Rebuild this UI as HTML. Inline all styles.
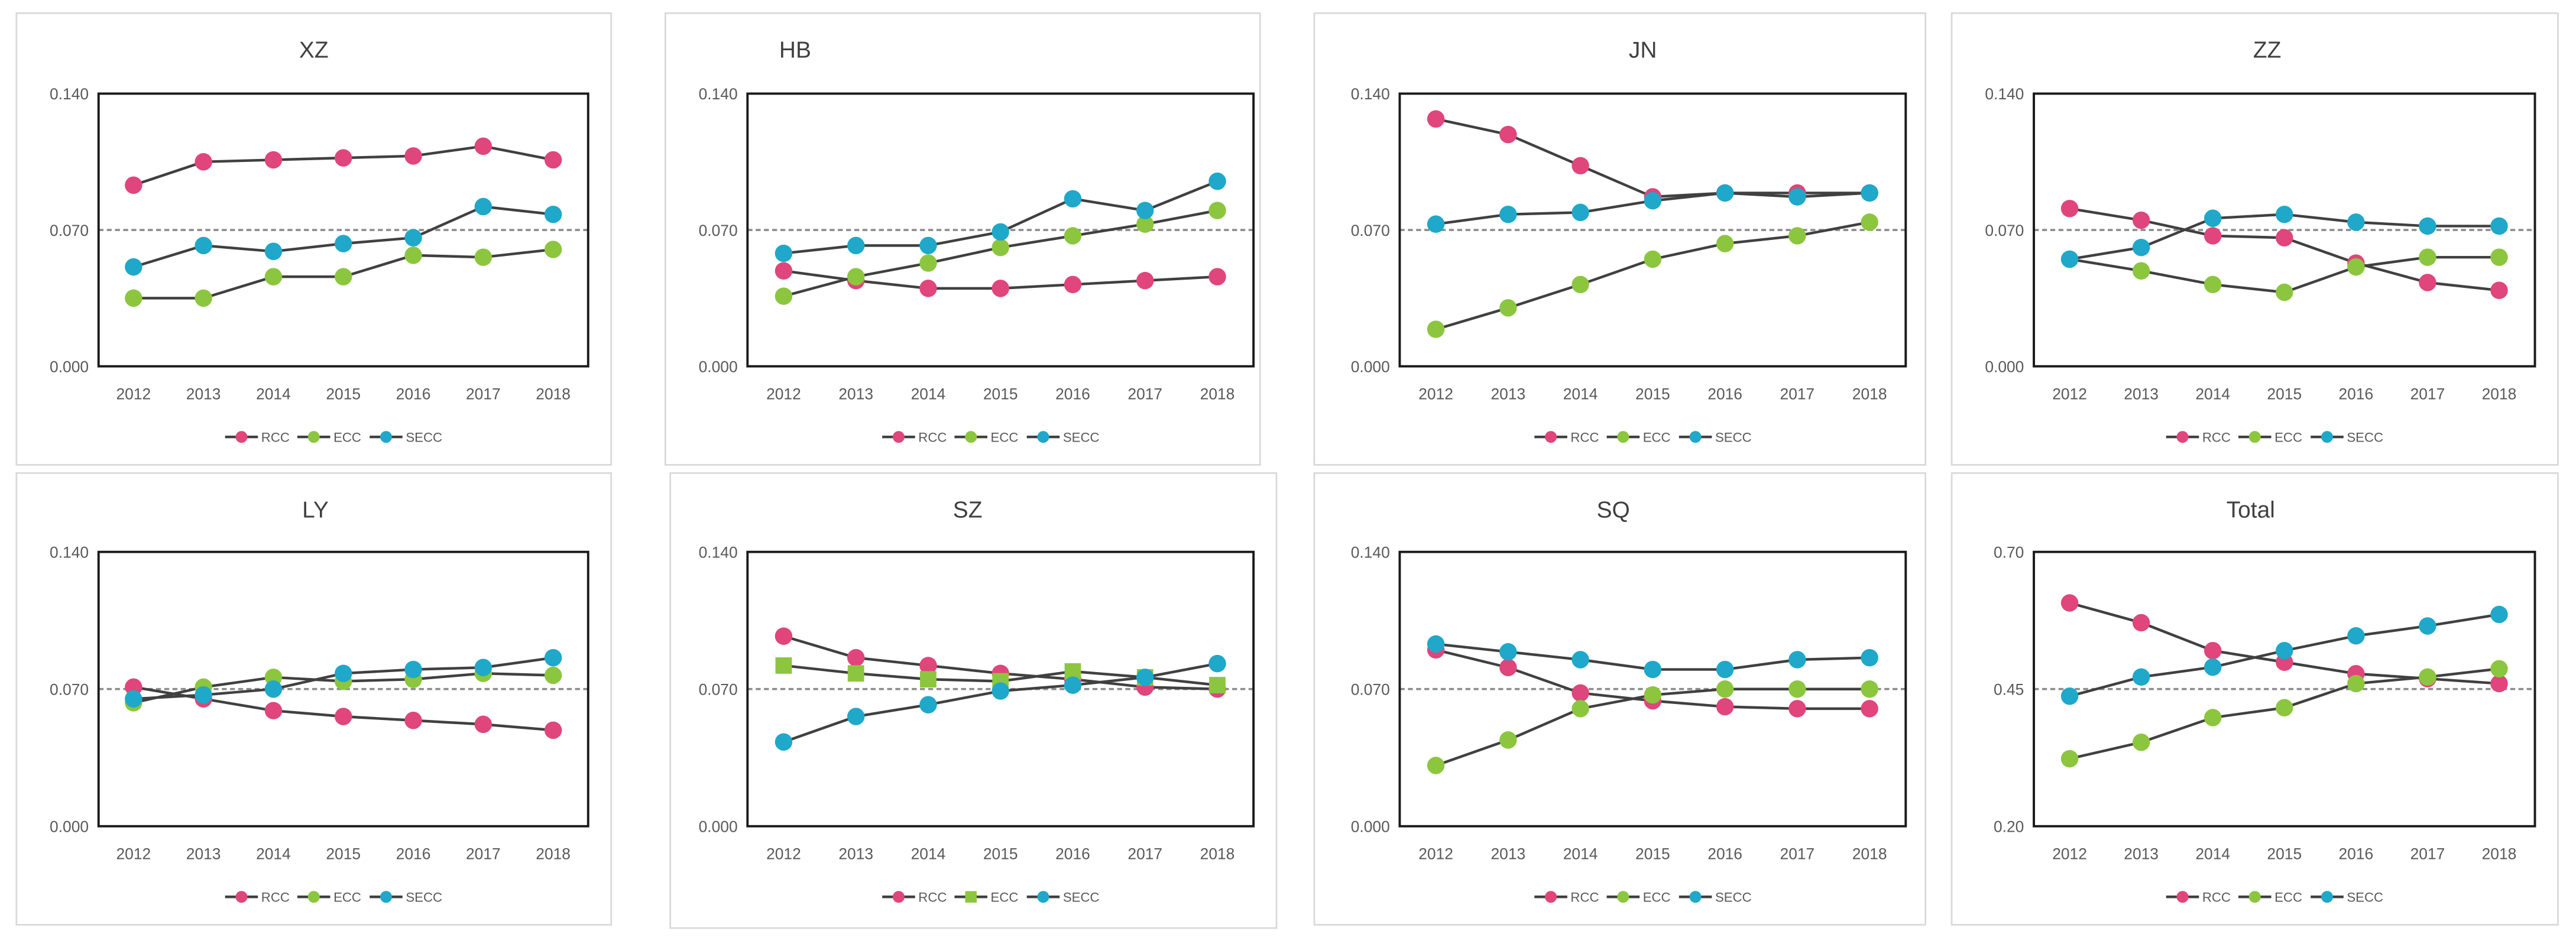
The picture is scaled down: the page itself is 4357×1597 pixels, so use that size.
<!DOCTYPE html>
<html><head><meta charset="utf-8">
<style>
html,body{margin:0;padding:0;background:#fff;}
svg{display:block;font-family:"Liberation Sans",sans-serif;}
</style></head>
<body>
<svg id="chart" width="4357" height="1597" viewBox="0 0 1568 574.7" preserveAspectRatio="none" xmlns="http://www.w3.org/2000/svg"></svg>
<script>
const categories = ["2012","2013","2014","2015","2016","2017","2018"];
const seriesNames = ["RCC","ECC","SECC"];
const panelTitles = ["XZ","HB","JN","ZZ","LY","SZ","SQ","Total"];
const smallTicks = ["0.000","0.070","0.140"];
const smallTickValues = [0, 0.07, 0.14];
const totalTicks = ["0.20","0.45","0.70"];
const totalTickValues = [0.2, 0.45, 0.7];

const xzRCC = [0.093,0.105,0.106,0.107,0.108,0.113,0.106];
const xzECC = [0.035,0.035,0.046,0.046,0.057,0.056,0.060];
const xzSECC = [0.051,0.062,0.059,0.063,0.066,0.082,0.078];
const hbRCC = [0.049,0.044,0.040,0.040,0.042,0.044,0.046];
const hbECC = [0.036,0.046,0.053,0.061,0.067,0.073,0.080];
const hbSECC = [0.058,0.062,0.062,0.069,0.086,0.080,0.095];
const jnRCC = [0.127,0.119,0.103,0.087,0.089,0.089,0.089];
const jnECC = [0.019,0.030,0.042,0.055,0.063,0.067,0.074];
const jnSECC = [0.073,0.078,0.079,0.085,0.089,0.087,0.089];
const zzRCC = [0.081,0.075,0.067,0.066,0.053,0.043,0.039];
const zzECC = [0.055,0.049,0.042,0.038,0.051,0.056,0.056];
const zzSECC = [0.055,0.061,0.076,0.078,0.074,0.072,0.072];
const lyRCC = [0.071,0.065,0.059,0.056,0.054,0.052,0.049];
const lyECC = [0.063,0.071,0.076,0.074,0.075,0.078,0.077];
const lySECC = [0.065,0.067,0.070,0.078,0.080,0.081,0.086];
const szRCC = [0.097,0.086,0.082,0.078,0.075,0.071,0.070];
const szECC = [0.082,0.078,0.075,0.074,0.079,0.076,0.072];
const szSECC = [0.043,0.056,0.062,0.069,0.072,0.076,0.083];
const sqRCC = [0.090,0.081,0.068,0.064,0.061,0.060,0.060];
const sqECC = [0.031,0.044,0.060,0.067,0.070,0.070,0.070];
const sqSECC = [0.093,0.089,0.085,0.080,0.080,0.085,0.086];
const totalRCC = [0.607,0.571,0.520,0.499,0.478,0.469,0.460];
const totalECC = [0.323,0.353,0.398,0.416,0.460,0.472,0.487];
const totalSECC = [0.437,0.472,0.490,0.520,0.547,0.565,0.586];

const svg = document.getElementById('chart');
const NS = 'http://www.w3.org/2000/svg';
const colors = {RCC:'#e0457b', ECC:'#8cc63f', SECC:'#1fa8c9'};

const panels = [
 {t:0, box:[10,8,362,275], pl:60, pr:358, pt:57, pb:223, tx:191, data:[xzRCC,xzECC,xzSECC], total:false},
 {t:1, box:[405,8,362,275], pl:455, pr:763, pt:57, pb:223, tx:484, data:[hbRCC,hbECC,hbSECC], total:false},
 {t:2, box:[800,8,372,275], pl:852, pr:1160, pt:57, pb:223, tx:1000, data:[jnRCC,jnECC,jnSECC], total:false},
 {t:3, box:[1188,8,369,275], pl:1238, pr:1543, pt:57, pb:223, tx:1380, data:[zzRCC,zzECC,zzSECC], total:false},
 {t:4, box:[10,288,362,275], pl:60, pr:358, pt:336, pb:503, tx:192, data:[lyRCC,lyECC,lySECC], total:false},
 {t:5, box:[408,288,369,277], pl:455, pr:763, pt:336, pb:503, tx:589, data:[szRCC,szECC,szSECC], total:false, square:true},
 {t:6, box:[800,288,372,275], pl:852, pr:1160, pt:336, pb:503, tx:982, data:[sqRCC,sqECC,sqSECC], total:false},
 {t:7, box:[1188,288,369,275], pl:1238, pr:1543, pt:336, pb:503, tx:1370, data:[totalRCC,totalECC,totalSECC], total:true}
];

function mk(tag, attrs, parent){
  const e = document.createElementNS(NS, tag);
  for (const k in attrs) e.setAttribute(k, attrs[k]);
  (parent||svg).appendChild(e);
  return e;
}

panels.forEach(p => {
  const g = mk('g', {});
  
  
  const [bx,by,bw,bh] = p.box;
  const border = mk('rect', {x:bx, y:by, width:bw, height:bh, fill:'#fff', stroke:'#d9d9d9', 'stroke-width':1}, g);
  
  
  const title = mk('text', {x:p.tx, y:by+27, 'text-anchor':'middle', 'font-size':14, fill:'#404040'}, g);
  title.textContent = panelTitles[p.t];
  
  

  const tv = p.total ? totalTickValues : smallTickValues;
  const tl = p.total ? totalTicks : smallTicks;
  const vmin = tv[0], vmax = tv[tv.length-1];
  const yS = v => p.pb - (v - vmin) / (vmax - vmin) * (p.pb - p.pt);
  const step = (p.pr - p.pl) / categories.length;
  const xS = i => p.pl + step * (i + 0.5);

  // reference dashed line (middle tick)
  const ref = mk('line', {x1:p.pl, x2:p.pr, y1:yS(tv[1]), y2:yS(tv[1]), stroke:'#8c8c8c', 'stroke-width':1.3, 'stroke-dasharray':'3,2'}, g);
  
  

  const frame = mk('rect', {x:p.pl, y:p.pt, width:p.pr-p.pl, height:p.pb-p.pt, fill:'none', stroke:'#1a1a1a', 'stroke-width':1.4}, g);
  
  

  tv.forEach((v, i) => {
    const t = mk('text', {x:p.pl-6, y:yS(v)+3.5, 'text-anchor':'end', 'font-size':9.5, fill:'#595959'}, g);
    t.textContent = tl[i];
    
    
  });
  categories.forEach((c, i) => {
    const t = mk('text', {x:xS(i), y:p.pb+20, 'text-anchor':'middle', 'font-size':9.5, fill:'#595959'}, g);
    t.textContent = c;
    
    
  });

  p.data.forEach((vals, si) => {
    const name = seriesNames[si];
    const pts = vals.map((v, i) => xS(i) + ',' + yS(v)).join(' ');
    const line = mk('polyline', {points:pts, fill:'none', stroke:'#404040', 'stroke-width':1.6}, g);
    
    
    vals.forEach((v, i) => {
      let m;
      if (p.square && name === 'ECC') {
        m = mk('rect', {x:xS(i)-5, y:yS(v)-5, width:10, height:10, fill:colors[name]}, g);
      } else {
        m = mk('circle', {cx:xS(i), cy:yS(v), r:5.3, fill:colors[name]}, g);
      }
      
      
    });
  });

  // legend
  const cx = (p.pl + p.pr) / 2;
  const ly = by + 258;
  const widths = [44, 44, 50];
  let x = cx - 72;
  seriesNames.forEach((name, si) => {
    const lg = mk('g', {}, g);
    
    
    mk('line', {x1:x, x2:x+20, y1:ly, y2:ly, stroke:'#404040', 'stroke-width':1.6}, lg);
    if (p.square && name === 'ECC') mk('rect', {x:x+6.5, y:ly-3.5, width:7, height:7, fill:colors[name]}, lg);
    else mk('circle', {cx:x+10, cy:ly, r:3.6, fill:colors[name]}, lg);
    const t = mk('text', {x:x+22, y:ly+3, 'font-size':8, fill:'#595959'}, lg);
    t.textContent = name;
    x += widths[si];
  });
});
</script>
</body></html>
